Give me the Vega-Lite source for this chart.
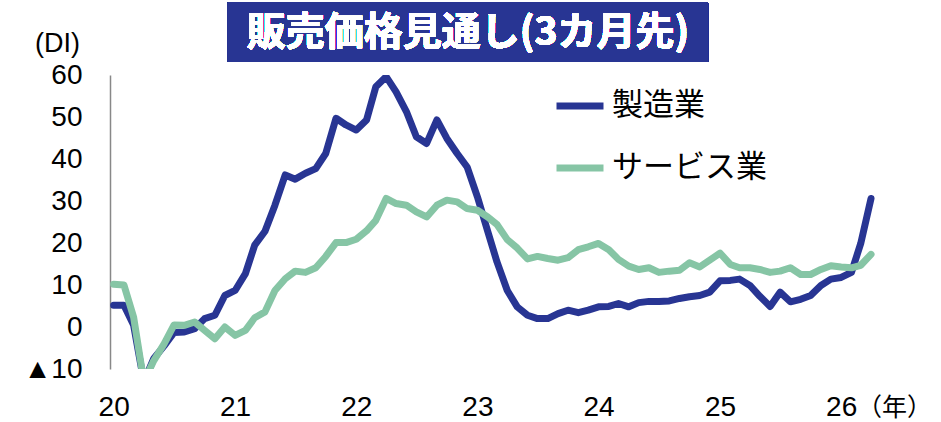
{
  "$schema": "https://vega.github.io/schema/vega-lite/v6.json",
  "width": 767,
  "height": 294,
  "autosize": {"type": "none"},
  "padding": {"left": 110, "top": 75, "right": 64, "bottom": 53},
  "background": "white",
  "config": {"view": {"stroke": null}, "font": "Liberation Sans"},
  "data": {"values": [
    {"date": "2020/01/01", "製造業": 5.2, "サービス業": 10.2},
    {"date": "2020/02/01", "製造業": 5.2, "サービス業": 10},
    {"date": "2020/03/01", "製造業": 0.5, "サービス業": 2.4},
    {"date": "2020/04/01", "製造業": -13, "サービス業": -13},
    {"date": "2020/05/01", "製造業": -7.5, "サービス業": -8},
    {"date": "2020/06/01", "製造業": -4.5, "サービス業": -4},
    {"date": "2020/07/01", "製造業": -1.3, "サービス業": 0.5},
    {"date": "2020/08/01", "製造業": -1.2, "サービス業": 0.4},
    {"date": "2020/09/01", "製造業": -0.4, "サービス業": 1.2},
    {"date": "2020/10/01", "製造業": 2.0, "サービス業": -0.8},
    {"date": "2020/11/01", "製造業": 2.8, "サービス業": -2.8},
    {"date": "2020/12/01", "製造業": 7.5, "サービス業": 0},
    {"date": "2021/01/01", "製造業": 8.7, "サービス業": -2},
    {"date": "2021/02/01", "製造業": 12.7, "サービス業": -0.8},
    {"date": "2021/03/01", "製造業": 19.5, "サービス業": 2.2},
    {"date": "2021/04/01", "製造業": 22.8, "サービス業": 3.6},
    {"date": "2021/05/01", "製造業": 29, "サービス業": 8.7},
    {"date": "2021/06/01", "製造業": 36.2, "サービス業": 11.5},
    {"date": "2021/07/01", "製造業": 35.2, "サービス業": 13.3},
    {"date": "2021/08/01", "製造業": 36.6, "サービス業": 13},
    {"date": "2021/09/01", "製造業": 37.7, "サービス業": 14.1},
    {"date": "2021/10/01", "製造業": 41.3, "サービス業": 16.8},
    {"date": "2021/11/01", "製造業": 49.7, "サービス業": 20.1},
    {"date": "2021/12/01", "製造業": 48.1, "サービス業": 20.1},
    {"date": "2022/01/01", "製造業": 46.9, "サービス業": 20.9},
    {"date": "2022/02/01", "製造業": 49.3, "サービス業": 22.9},
    {"date": "2022/03/01", "製造業": 57.2, "サービス業": 25.4},
    {"date": "2022/04/01", "製造業": 59.6, "サービス業": 30.6},
    {"date": "2022/05/01", "製造業": 56, "サービス業": 29.4},
    {"date": "2022/06/01", "製造業": 51.3, "サービス業": 29},
    {"date": "2022/07/01", "製造業": 45.3, "サービス業": 27.4},
    {"date": "2022/08/01", "製造業": 43.7, "サービス業": 26.2},
    {"date": "2022/09/01", "製造業": 49.3, "サービス業": 29},
    {"date": "2022/10/01", "製造業": 44.9, "サービス業": 30.2},
    {"date": "2022/11/01", "製造業": 41.3, "サービス業": 29.8},
    {"date": "2022/12/01", "製造業": 38.1, "サービス業": 28.2},
    {"date": "2023/01/01", "製造業": 31, "サービス業": 27.8},
    {"date": "2023/02/01", "製造業": 22.8, "サービス業": 26.2},
    {"date": "2023/03/01", "製造業": 15.5, "サービス業": 24.4},
    {"date": "2023/04/01", "製造業": 8.7, "サービス業": 20.8},
    {"date": "2023/05/01", "製造業": 4.8, "サービス業": 18.8},
    {"date": "2023/06/01", "製造業": 2.8, "サービス業": 16.2},
    {"date": "2023/07/01", "製造業": 2, "サービス業": 16.8},
    {"date": "2023/08/01", "製造業": 2, "サービス業": 16.3},
    {"date": "2023/09/01", "製造業": 3.2, "サービス業": 15.9},
    {"date": "2023/10/01", "製造業": 4, "サービス業": 16.5},
    {"date": "2023/11/01", "製造業": 3.4, "サービス業": 18.4},
    {"date": "2023/12/01", "製造業": 4, "サービス業": 19.1},
    {"date": "2024/01/01", "製造業": 4.8, "サービス業": 19.9},
    {"date": "2024/02/01", "製造業": 4.9, "サービス業": 18.4},
    {"date": "2024/03/01", "製造業": 5.6, "サービス業": 16.1},
    {"date": "2024/04/01", "製造業": 4.8, "サービス業": 14.5},
    {"date": "2024/05/01", "製造業": 5.8, "サービス業": 13.7},
    {"date": "2024/06/01", "製造業": 6.1, "サービス業": 14.1},
    {"date": "2024/07/01", "製造業": 6.1, "サービス業": 13},
    {"date": "2024/08/01", "製造業": 6.2, "サービス業": 13.3},
    {"date": "2024/09/01", "製造業": 6.8, "サービス業": 13.5},
    {"date": "2024/10/01", "製造業": 7.2, "サービス業": 15.3},
    {"date": "2024/11/01", "製造業": 7.5, "サービス業": 14.3},
    {"date": "2024/12/01", "製造業": 8.3, "サービス業": 15.9},
    {"date": "2025/01/01", "製造業": 11, "サービス業": 17.6},
    {"date": "2025/02/01", "製造業": 11.1, "サービス業": 14.9},
    {"date": "2025/03/01", "製造業": 11.4, "サービス業": 14.1},
    {"date": "2025/04/01", "製造業": 9.9, "サービス業": 14.1},
    {"date": "2025/05/01", "製造業": 7.3, "サービス業": 13.7},
    {"date": "2025/06/01", "製造業": 4.9, "サービス業": 13},
    {"date": "2025/07/01", "製造業": 8.3, "サービス業": 13.3},
    {"date": "2025/08/01", "製造業": 6, "サービス業": 14.1},
    {"date": "2025/09/01", "製造業": 6.6, "サービス業": 12.5},
    {"date": "2025/10/01", "製造業": 7.5, "サービス業": 12.5},
    {"date": "2025/11/01", "製造業": 9.9, "サービス業": 13.7},
    {"date": "2025/12/01", "製造業": 11.4, "サービス業": 14.6},
    {"date": "2026/01/01", "製造業": 11.8, "サービス業": 14.3},
    {"date": "2026/02/01", "製造業": 13, "サービス業": 14.1},
    {"date": "2026/03/01", "製造業": 19.9, "サービス業": 14.7},
    {"date": "2026/04/01", "製造業": 30.6, "サービス業": 17.3}
  ]},
  "encoding": {
    "x": {
      "field": "date", "type": "temporal",
      "scale": {"domain": [{"year": 2019, "month": 12, "date": 21}, {"year": 2026, "month": 4, "date": 19}]},
      "axis": {
        "values": [
          {"year": 2020, "month": 1, "date": 1}, {"year": 2021, "month": 1, "date": 1},
          {"year": 2022, "month": 1, "date": 1}, {"year": 2023, "month": 1, "date": 1},
          {"year": 2024, "month": 1, "date": 1}, {"year": 2025, "month": 1, "date": 1},
          {"year": 2026, "month": 1, "date": 1}
        ],
        "format": "%y",
        "domain": false, "ticks": false, "grid": false,
        "labelFont": "Liberation Sans", "labelFontSize": 28, "labelColor": "black",
        "labelPadding": 24, "labelFlush": false, "labelOverlap": false,
        "title": "（年）", "titleFont": "Noto Sans CJK JP", "titleFontSize": 25,
        "titleFontWeight": "normal", "titleColor": "black",
        "titleX": 784, "titleY": 38, "titleAlign": "center", "titleBaseline": "middle", "titleAnchor": null
      }
    }
  },
  "layer": [
    {
      "mark": {"type": "rect", "color": "#283593", "clip": false},
      "encoding": {
        "x": {"datum": {"year": 2020, "month": 12, "date": 10}, "type": "temporal"},
        "x2": {"datum": {"year": 2024, "month": 11, "date": 26}},
        "y": {"datum": 63.1, "type": "quantitative"},
        "y2": {"datum": 77.2}
      }
    },
    {
      "mark": {"type": "text", "color": "white", "font": "Noto Sans CJK JP", "fontSize": 39, "fontWeight": "bold", "align": "center", "baseline": "middle", "clip": false, "text": "販売価格見通し(3カ月先)"},
      "encoding": {
        "x": {"datum": {"year": 2022, "month": 12, "date": 4}, "type": "temporal"},
        "y": {"datum": 70.1, "type": "quantitative"}
      }
    },
    {
      "mark": {"type": "rule", "color": "#888888", "strokeWidth": 2},
      "encoding": {"y": {"datum": 0, "type": "quantitative"}}
    },
    {
      "mark": {"type": "line", "strokeWidth": 7, "strokeCap": "round", "strokeJoin": "round", "clip": true},
      "encoding": {
        "y": {
          "field": "製造業", "type": "quantitative",
          "scale": {"domain": [-10, 60], "nice": false, "zero": false},
          "axis": {
            "values": [-10, 0, 10, 20, 30, 40, 50, 60],
            "labelExpr": "datum.value < 0 ? '▲' + abs(datum.value) : datum.label",
            "grid": false, "ticks": false,
            "domainColor": "#888888", "domainWidth": 1.5,
            "labelFont": "Liberation Sans", "labelFontSize": 28, "labelColor": "black",
            "labelPadding": 28, "labelFlush": false, "labelOverlap": false,
            "title": "(DI)", "titleFont": "Liberation Sans", "titleFontSize": 27,
            "titleFontWeight": "normal", "titleColor": "black", "titleAngle": 0,
            "titleX": -53, "titleY": -32, "titleAlign": "center", "titleBaseline": "middle", "titleAnchor": null
          }
        },
        "color": {
          "datum": "製造業",
          "scale": {"domain": ["製造業", "サービス業"], "range": ["#283593", "#86C5A5"]},
          "legend": {
            "orient": "none", "legendX": 443, "legendY": 4, "title": null,
            "symbolType": "stroke", "symbolSize": 2209, "symbolStrokeWidth": 7,
            "labelFont": "Noto Sans CJK JP", "labelFontSize": 31, "labelColor": "black",
            "labelOffset": 5, "rowPadding": 20, "padding": 0, "labelLimit": 300
          }
        }
      }
    },
    {
      "mark": {"type": "line", "strokeWidth": 7, "strokeCap": "round", "strokeJoin": "round", "clip": true},
      "encoding": {
        "y": {"field": "サービス業", "type": "quantitative"},
        "color": {"datum": "サービス業"}
      }
    }
  ]
}
